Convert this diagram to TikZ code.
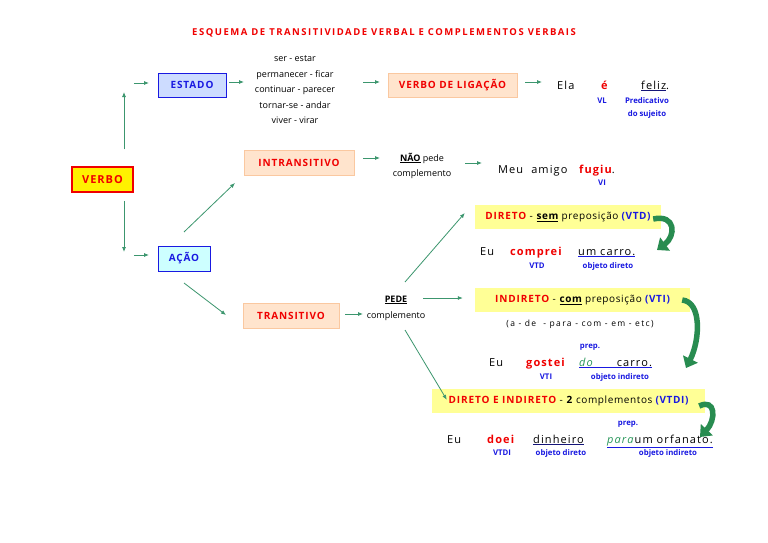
\documentclass[tikz,border=0pt]{standalone}
\usepackage{fontspec}
\setmainfont{Open Sans}
\newfontfamily\capsfont{Open Sans}[LetterSpace=9]
\newfontfamily\titlefont{Open Sans}[LetterSpace=16]
\newfontfamily\sentfont{Open Sans}[LetterSpace=10]
\newfontfamily\smallfont{Open Sans}[LetterSpace=6]
\usetikzlibrary{arrows.meta}
\definecolor{arrg}{RGB}{60,150,110}
\definecolor{bigg}{RGB}{40,140,80}
\definecolor{redt}{RGB}{240,0,0}
\definecolor{blu}{RGB}{25,25,225}
\definecolor{navy}{RGB}{20,20,120}
\definecolor{peach}{RGB}{255,228,205}
\definecolor{peachl}{RGB}{250,200,160}
\definecolor{yel}{RGB}{255,255,150}
\definecolor{estfill}{RGB}{205,220,255}
\definecolor{acfill}{RGB}{205,255,255}
\definecolor{gprep}{RGB}{40,150,90}
\tikzset{
  capbox/.style={inner sep=0pt, font=\capsfont\bfseries\fontsize{10}{11}\selectfont},
  bluebox/.style={capbox, draw=blu, line width=0.9pt, text=blu},
  peachbox/.style={capbox, draw=peachl, fill=peach, text=redt, line width=0.6pt},
  yelbox/.style={inner sep=0pt, fill=yel, font=\smallfont\fontsize{10}{11}\selectfont},
  tnode/.style={inner sep=0pt, font=\fontsize{9}{10}\selectfont},
  sent/.style={inner sep=0pt, anchor=base west, font=\sentfont\fontsize{11}{12}\selectfont},
  redw/.style={sent, text=redt, font=\sentfont\bfseries\fontsize{11}{12}\selectfont},
  lbl/.style={inner sep=0pt, text=blu, font=\bfseries\fontsize{7.8}{13}\selectfont},
  arr/.style={draw=arrg, line width=0.8pt, -{Latex[length=5pt,width=4pt]}},
  bigarr/.style={draw=bigg, line width=5.5pt, -{Triangle[length=10pt,width=16pt]}}
}
\newcommand{\rb}[1]{\textcolor{redt}{\capsfont\bfseries #1}}
\newcommand{\bb}[1]{\textcolor{blu}{\bfseries #1}}
\begin{document}
\begin{tikzpicture}[x=1pt,y=-1pt]
\useasboundingbox (0,0) rectangle (768,543);
\fill[white] (0,0) rectangle (768,543);
% title
\node[inner sep=0pt, text=redt, font=\titlefont\bfseries\fontsize{9.5}{10}\selectfont] (title) at (384,33) {ESQUEMA DE TRANSITIVIDADE VERBAL E COMPLEMENTOS VERBAIS};
% boxes
\node[capbox, draw=redt, fill=yellow, line width=1.5pt, text=redt, minimum width=61pt, minimum height=25pt, font=\capsfont\bfseries\fontsize{11}{12}\selectfont] (verbo) at (102.5,179.5) {VERBO};
\node[bluebox, fill=estfill, minimum width=68pt, minimum height=24pt] (estado) at (192,85) {ESTADO};
\node[bluebox, fill=acfill, minimum width=52pt, minimum height=25pt] (acao) at (184,258.5) {AÇÃO};
\node[peachbox, minimum width=129pt, minimum height=24pt] (vdl) at (452.5,85) {VERBO DE LIGAÇÃO};
\node[peachbox, minimum width=110pt, minimum height=25pt] (intr) at (299,162.5) {INTRANSITIVO};
\node[peachbox, minimum width=96pt, minimum height=25pt] (trans) at (291,315.5) {TRANSITIVO};
\node[yelbox, minimum width=186pt, minimum height=24pt] (direto) at (568,217) {\rb{DIRETO} - \textbf{\underline{sem}} preposição \bb{(VTD)}};
\node[yelbox, minimum width=215pt, minimum height=24pt] (indireto) at (582.5,300) {\rb{INDIRETO} - \textbf{\underline{com}} preposição \bb{(VTI)}};
\node[yelbox, minimum width=273pt, minimum height=24pt] (di) at (568.5,401) {\rb{DIRETO E INDIRETO} - \textbf{2} complementos \bb{(VTDI)}};
% text blocks
\node[tnode, align=center, font=\fontsize{9}{15.5}\selectfont] (list) at (295,90) {ser - estar\\permanecer - ficar\\continuar - parecer\\tornar-se - andar\\viver - virar};
\node[tnode, align=center, font=\fontsize{9}{15}\selectfont] (nao) at (422,165.5) {\textbf{\underline{NÃO}} pede\\complemento};
\node[tnode, align=center, font=\fontsize{9}{16}\selectfont] (pede) at (396,308) {\textbf{\underline{PEDE}}\\complemento};
% sentence 1
\node[sent] (ela) at (557,89) {Ela};
\node[redw] (e) at (601,89) {é};
\node[sent] (feliz) at (641,89) {{\color{navy}\underline{\color{black}feliz}}.};
\node[lbl] (vl) at (602,101) {VL};
\node[lbl, align=center] (pred) at (647,107.5) {Predicativo\\do sujeito};
% sentence 2
\node[sent] (meu) at (498,173) {Meu\hspace{8pt}amigo};
\node[redw] (fugiu) at (579,173) {fugiu\textcolor{black}{\mdseries .}};
\node[lbl] (vi) at (602,183) {VI};
% sentence 3
\node[sent] (eu1) at (480,255) {Eu};
\node[redw] (comprei) at (510,255) {comprei};
\node[sent] (carro1) at (578,255) {{\color{blu}\underline{\color{black}um carro.}}};
\node[lbl] (vtd) at (537,266) {VTD};
\node[lbl] (od1) at (608,266) {objeto direto};
% indireto
\node[tnode, font=\titlefont\fontsize{8.5}{10}\selectfont] (prepl) at (580,324) {(a - de \ - para - com - em - etc)};
\node[lbl] (prep1) at (590,347) {prep.};
\node[sent] (eu2) at (489,366) {Eu};
\node[redw] (gostei) at (526,366) {gostei};
\node[sent] (docarro) at (579,366) {{\color{blu}\underline{\textcolor{gprep}{\itshape do}\hspace{24pt}\color{black}carro.}}};
\node[lbl] (vti) at (546,377) {VTI};
\node[lbl] (oi1) at (620,377) {objeto indireto};
% di
\node[lbl] (prep2) at (628,424) {prep.};
\node[sent] (eu3) at (447,443) {Eu};
\node[redw] (doei) at (487,443) {doei};
\node[sent] (dinheiro) at (533,443) {{\color{navy}\underline{\color{black}dinheiro}}};
\node[sent] (orf) at (607,443) {{\color{blu}\underline{\textcolor{gprep}{\itshape para}\hspace{1pt}\color{black}um orfanato.}}};
\node[lbl] (vtdi) at (502,453) {VTDI};
\node[lbl] (od2) at (561,453) {objeto direto};
\node[lbl] (oi2) at (668,453) {objeto indireto};
% connector coordinates
\coordinate (vup) at (124,92);
\coordinate (vdown) at (124,252);
\coordinate (estin) at (149,83);
\coordinate (acin) at (149,255);
\coordinate (listout) at (363,82);
\coordinate (listin) at (244,82);
\coordinate (vdlin) at (380,82);
\coordinate (elain) at (542,82);
\coordinate (naoin) at (380,158);
\coordinate (meuin) at (482,163);
\coordinate (pedein) at (363,314);
\coordinate (acup) at (184,232);
\coordinate (intrin) at (235,183);
\coordinate (acdn) at (184,283);
\coordinate (transin) at (226,315);
\coordinate (pedeup) at (405,282);
\coordinate (pederight) at (423,298);
\coordinate (pededn) at (405,330);
\coordinate (tip1) at (657,250);
\coordinate (tip2) at (686,368);
\coordinate (tip3) at (700,437);
% connectors
\draw[arr, shorten <=17pt] (vup |- verbo.north) -- (vup);
\draw[arr, shorten <=8pt] (vdown |- verbo.south) -- (vdown);
\draw[arr] (verbo.east |- estin) -- (estin);
\draw[arr] (verbo.east |- acin) -- (acin);
\draw[arr, shorten <=3pt] (estado.east |- listin) -- (listin);
\draw[arr] (listout) -- (vdlin);
\draw[arr, shorten <=8pt] (vdl.east |- elain) -- (elain);
\draw[arr, shorten <=9pt] (intr.east |- naoin) -- (naoin);
\draw[arr] ([xshift=-17pt]meuin) -- (meuin);
\draw[arr, shorten <=6pt] (trans.east |- pedein) -- (pedein);
\draw[arr] (acup) -- (intrin);
\draw[arr] (acdn) -- (transin);
\draw[arr] (pedeup) -- ([shift={(-10pt,4pt)}]direto.west);
\draw[arr] (pederight) -- ([xshift=-12pt]indireto.west |- pederight);
\draw[arr] (pededn) -- ([shift={(15pt,-11pt)}]di.north west);
% big curved arrows
\draw[bigarr] ([xshift=-8pt,yshift=-2pt]direto.east) .. controls (676,214) and (676,236) .. (tip1);
\draw[bigarr] ([xshift=-8pt,yshift=0pt]indireto.east) .. controls (702,302) and (700,340) .. (tip2);
\draw[bigarr] ([xshift=-6pt,yshift=-5pt]di.east) .. controls (716,398) and (716,420) .. (tip3);
\end{tikzpicture}
\end{document}
